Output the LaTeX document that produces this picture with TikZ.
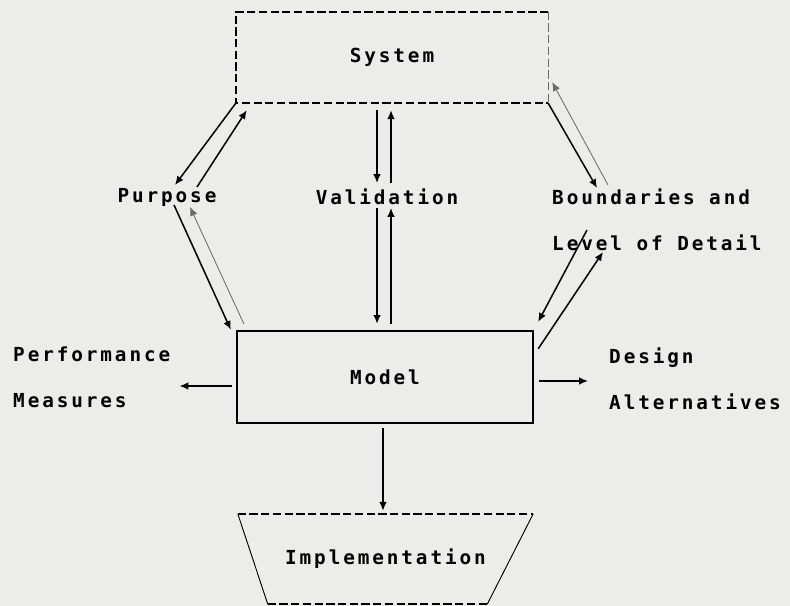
\documentclass[tikz,border=0pt]{standalone}
\usepackage{fontspec}
\usetikzlibrary{arrows.meta, calc}
\newfontfamily\dotfont[LetterSpace=15]{DejaVu Sans Mono}
\definecolor{paper}{RGB}{236,236,235}
\definecolor{faintLine}{RGB}{105,105,105}

\begin{document}
\begin{tikzpicture}[
  x=0.3mm, y=-0.3mm,
  txt/.style={font=\dotfont\bfseries\fontsize{16.5pt}{39pt}\selectfont, inner sep=0pt, align=left},
  sysbox/.style={txt, rectangle, minimum width=93.6mm, minimum height=27.3mm},
  modelbox/.style={txt, rectangle, draw=black, line width=2pt, minimum width=88.8mm, minimum height=27.6mm},
  implbox/.style={txt, rectangle, minimum width=88.5mm, minimum height=27mm},
  dashline/.style={draw=black, line width=1.7pt, dash pattern=on 7pt off 3pt},
  faintdash/.style={draw=faintLine, line width=0.7pt, dash pattern=on 7pt off 3pt},
  side/.style={draw=black, line width=0.8pt},
  arr/.style={draw=black, line width=1.3pt, -{Latex[length=7.5pt, width=6.5pt]}},
  thinarr/.style={draw=faintLine, line width=0.7pt, -{Latex[length=7.5pt, width=6.5pt]}}
]

  \path[use as bounding box, fill=paper] (0,0) rectangle (790,606);

  % ── Blocs ───────────────────────────────────────────────
  \node[sysbox]   (sys)   at (392,57.5) {System};
  \node[modelbox] (model) at (385,377)  {Model};
  \node[implbox]  (impl)  at (385.5,559) {Implementation};

  \draw[dashline] (sys.north east) -- (sys.north west) -- (sys.south west) -- (sys.south east);
  \draw[faintdash] (sys.north east) -- (sys.south east);

  \draw[dashline] (impl.north west) -- (impl.north east);
  \draw[dashline] ($(impl.south west)+(30,0)$) -- ($(impl.south east)+(-46,0)$);
  \draw[side] (impl.north west) -- ($(impl.south west)+(30,0)$);
  \draw[side] (impl.north east) -- ($(impl.south east)+(-46,0)$);

  % ── Libellés ────────────────────────────────────────────
  \node[txt] (purp)  at (167,197) {Purpose};
  \node[txt] (valid) at (387,197) {Validation};
  \node[txt, anchor=west] (bound)  at (552,220)   {Boundaries and\\Level of Detail};
  \node[txt, anchor=west] (perf)   at (13,377)    {Performance\\Measures};
  \node[txt, anchor=west] (design) at (609,378.5) {Design\\Alternatives};

  % ── Flèches ─────────────────────────────────────────────
  \draw[arr] (sys.south west) -- ($(purp)+(8,-12)$);
  \draw[arr] ($(purp)+(30,-10)$) -- ($(sys.south west)+(11,7)$);
  \draw[arr] ($(purp)+(7,8)$) -- ($(model.north west)+(-5,0)$);
  \draw[thinarr] ($(model.north west)+(8,-6)$) -- ($(purp)+(23,10)$);

  \draw[arr] ($(sys.south)+(-15,7)$) -- ($(valid)+(-10,-14)$);
  \draw[arr] ($(valid)+(4,-14)$) -- ($(sys.south)+(-1,7)$);
  \draw[arr] ($(valid)+(-10,11)$) -- ($(model.north)+(-8,-6)$);
  \draw[arr] ($(model.north)+(6,-6)$) -- ($(valid)+(4,11)$);

  \draw[arr] (sys.south east) -- ($(bound.west)+(45,-32)$);
  \draw[thinarr] ($(bound.west)+(56,-35)$) -- ($(sys.south east)+(4,-21)$);
  \draw[arr] ($(bound.west)+(35,10)$) -- ($(model.north east)+(4,-8)$);
  \draw[arr] ($(model.north east)+(4,19)$) -- ($(bound.west)+(51,32)$);

  \draw[arr] ($(model.west)+(-4,9)$) -- ($(perf.east)+(9,9)$);
  \draw[arr] ($(model.east)+(5,4)$) -- ($(design.west)+(-21,2.5)$);
  \draw[arr] ($(model.south)+(-2,4)$) -- ($(impl.north)+(-2.5,-3)$);

\end{tikzpicture}
\end{document}
